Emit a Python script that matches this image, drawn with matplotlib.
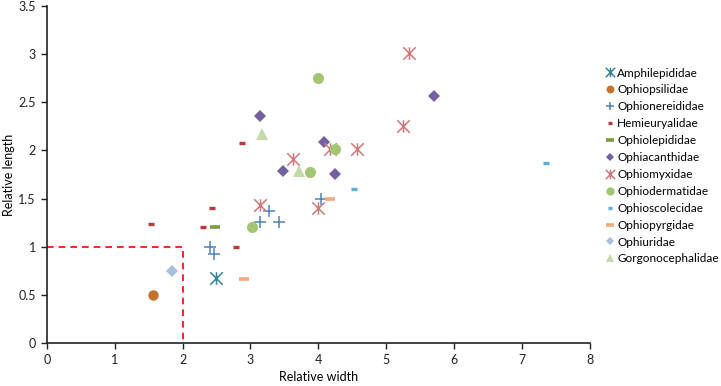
import matplotlib
matplotlib.use('Agg')
import matplotlib.pyplot as plt
from matplotlib.path import Path

'''Data read off the chart'''
families = ['Amphilepididae', 'Ophiopsilidae', 'Ophionereididae', 'Hemieuryalidae',
            'Ophiolepididae', 'Ophiacanthidae', 'Ophiomyxidae', 'Ophiodermatidae',
            'Ophioscolecidae', 'Ophiopyrgidae', 'Ophiuridae', 'Gorgonocephalidae']

amphilepididae_x = [2.49]
amphilepididae_y = [0.67]
ophiopsilidae_x = [1.56]
ophiopsilidae_y = [0.50]
ophionereididae_x = [2.40, 2.47, 3.14, 3.27, 3.42, 4.04]
ophionereididae_y = [1.00, 0.92, 1.26, 1.37, 1.26, 1.50]
hemieuryalidae_x = [1.53, 2.43, 2.30, 2.78, 2.88]
hemieuryalidae_y = [1.24, 1.40, 1.20, 1.00, 2.08]
ophiolepididae_x = [2.48]
ophiolepididae_y = [1.20]
ophiacanthidae_x = [3.14, 4.08, 3.48, 4.25, 5.71]
ophiacanthidae_y = [2.36, 2.09, 1.79, 1.76, 2.57]
ophiomyxidae_x = [5.33, 5.25, 4.57, 3.63, 4.17, 3.14, 4.00]
ophiomyxidae_y = [3.01, 2.25, 2.01, 1.91, 2.01, 1.43, 1.40]
ophiodermatidae_x = [4.00, 4.25, 3.88, 3.02]
ophiodermatidae_y = [2.75, 2.01, 1.78, 1.20]
ophioscolecidae_x = [4.53, 7.36]
ophioscolecidae_y = [1.60, 1.87]
ophiopyrgidae_x = [4.17, 2.91]
ophiopyrgidae_y = [1.50, 0.66]
ophiuridae_x = [1.85]
ophiuridae_y = [0.75]
gorgonocephalidae_x = [3.17, 3.72]
gorgonocephalidae_y = [2.17, 1.79]

xs = [amphilepididae_x, ophiopsilidae_x, ophionereididae_x, hemieuryalidae_x,
      ophiolepididae_x, ophiacanthidae_x, ophiomyxidae_x, ophiodermatidae_x,
      ophioscolecidae_x, ophiopyrgidae_x, ophiuridae_x, gorgonocephalidae_x]
ys = [amphilepididae_y, ophiopsilidae_y, ophionereididae_y, hemieuryalidae_y,
      ophiolepididae_y, ophiacanthidae_y, ophiomyxidae_y, ophiodermatidae_y,
      ophioscolecidae_y, ophiopyrgidae_y, ophiuridae_y, gorgonocephalidae_y]

# threshold box (width 2, length 1)
box_x = [0, 2, 2]
box_y = [1, 1, 0]

'''Styles'''
star = Path([(-1, -1), (1, 1), (-1, 1), (1, -1), (0, -1), (0, 1)],
            [Path.MOVETO, Path.LINETO, Path.MOVETO, Path.LINETO, Path.MOVETO, Path.LINETO])

styles = {
    'Amphilepididae':    dict(marker=star, color='#31849B', ms=9, mew=1.1, mfc='none'),
    'Ophiopsilidae':     dict(marker='o', color='#C5712E', ms=7.5, mew=0),
    'Ophionereididae':   dict(marker='+', color='#4F81BD', ms=8, mew=1.1),
    'Hemieuryalidae':    dict(marker='_', color='#B83A3A', ms=4.5, mew=2.4),
    'Ophiolepididae':    dict(marker='_', color='#77A03C', ms=7.5, mew=2.6),
    'Ophiacanthidae':    dict(marker='D', color='#7460A0', ms=6, mew=0),
    'Ophiomyxidae':      dict(marker=star, color='#D07878', ms=9, mew=1.1, mfc='none'),
    'Ophiodermatidae':   dict(marker='o', color='#A3C675', ms=8, mew=0),
    'Ophioscolecidae':   dict(marker='_', color='#5BAED6', ms=4.5, mew=2.4),
    'Ophiopyrgidae':     dict(marker='_', color='#F5AA78', ms=7.5, mew=2.6),
    'Ophiuridae':        dict(marker='D', color='#A9BEDD', ms=6, mew=0),
    'Gorgonocephalidae': dict(marker='^', color='#C6D9A9', ms=8, mew=0),
}

plt.rcParams['font.family'] = ['Lato', 'DejaVu Sans']

fig = plt.figure(figsize=(7.21, 3.86), dpi=100)
ax = fig.add_axes([0.065, 0.112, 0.753, 0.872])

ax.plot(box_x, box_y, color='#FF0000', linestyle=(0, (4, 3)), lw=1.2, zorder=1)

for name, x, y in zip(families, xs, ys):
    s = styles[name]
    ax.plot(x, y, linestyle='none', marker=s['marker'], color=s['color'],
            markersize=s['ms'], markeredgewidth=s['mew'],
            markerfacecolor=s.get('mfc', s['color']), label=name, zorder=3)

ax.set_xlim(0, 8)
ax.set_ylim(0, 3.5)
ax.set_xticks(range(0, 9))
ax.set_yticks([0, 0.5, 1, 1.5, 2, 2.5, 3, 3.5])
ax.set_yticklabels(['0', '0.5', '1', '1.5', '2', '2.5', '3', '3.5'])
ax.tick_params(labelsize=9, length=4, width=1, colors='#222222', pad=4)
ax.set_xlabel('Relative width', fontsize=9, labelpad=4)
ax.set_ylabel('Relative length', fontsize=9, labelpad=2)
for side in ['top', 'right']:
    ax.spines[side].set_visible(False)
for side in ['left', 'bottom']:
    ax.spines[side].set_linewidth(1.2)
    ax.spines[side].set_color('#222222')

fig.legend(loc='center left', bbox_to_anchor=(0.833, 0.57), frameon=False,
           fontsize=8.5, handletextpad=0.2, handlelength=0.8, labelspacing=0.5,
           markerscale=0.75, borderaxespad=0)

plt.savefig('out.png', dpi=100)
